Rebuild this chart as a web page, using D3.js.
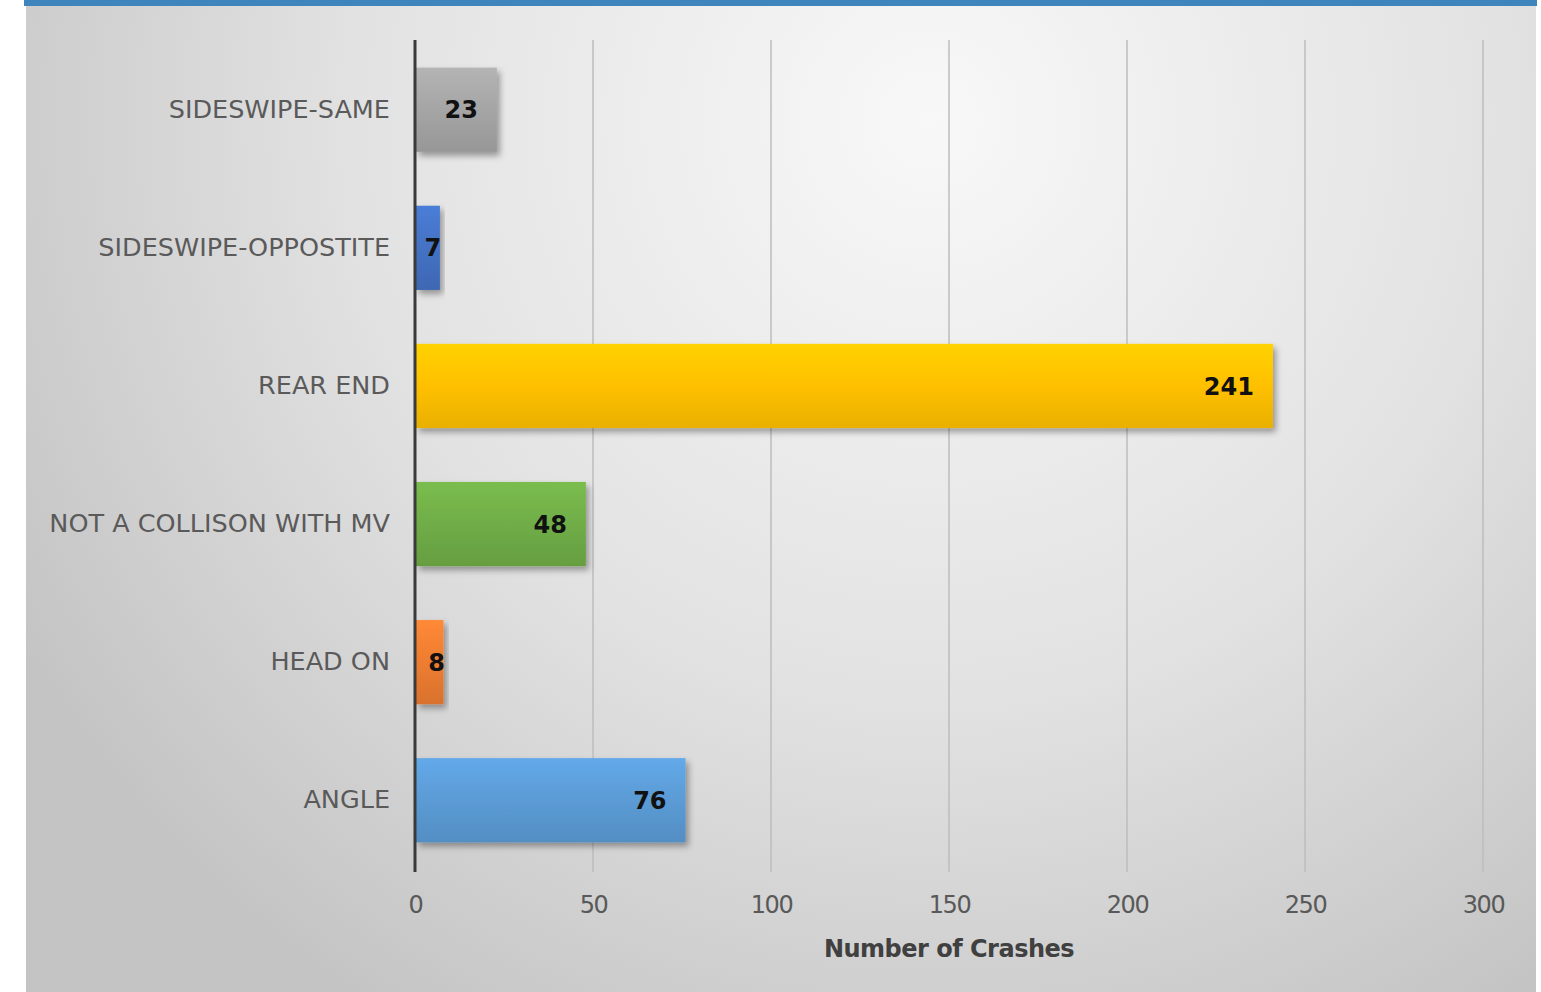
<!DOCTYPE html>
<html>
<head>
<meta charset="utf-8">
<script src="https://cdn.jsdelivr.net/npm/d3@7"></script>
<style>
  html, body { margin: 0; padding: 0; background: #fff; }
  svg { display: block; }
</style>
</head>
<body>
<div id="chart"></div>
<script>
// crash types, listed top to bottom as in the chart
const categories = ["SIDESWIPE-SAME", "SIDESWIPE-OPPOSTITE", "REAR END", "NOT A COLLISON WITH MV", "HEAD ON", "ANGLE"];
const crashes = [23, 7, 241, 48, 8, 76];
const barColors = ["#a5a5a5", "#4472c4", "#ffc000", "#70ad47", "#ed7d31", "#5b9bd5"];
const xTicks = [0, 50, 100, 150, 200, 250, 300];
const axisTitle = "Number of Crashes";

const width = 1541, height = 992;
const margin = {top: 40, right: 58, bottom: 122, left: 415};

const svg = d3.select("#chart").append("svg")
  .attr("width", width)
  .attr("height", height);

const defs = svg.append("defs");

// panel background: light in the top middle, greyer to the edges
const bg = defs.append("radialGradient")
  .attr("id", "bg")
  .attr("gradientUnits", "userSpaceOnUse")
  .attr("cx", 930).attr("cy", 120).attr("r", 1050);
bg.append("stop").attr("offset", "0%").attr("stop-color", "#f8f8f8");
bg.append("stop").attr("offset", "55%").attr("stop-color", "#e2e2e2");
bg.append("stop").attr("offset", "100%").attr("stop-color", "#c4c4c4");

// bar gradients, slightly lighter on top
barColors.forEach((c, i) => {
  const g = defs.append("linearGradient")
    .attr("id", "bar" + i)
    .attr("x1", 0).attr("y1", 0).attr("x2", 0).attr("y2", 1);
  g.append("stop").attr("offset", "0%").attr("stop-color", d3.color(c).brighter(0.25));
  g.append("stop").attr("offset", "50%").attr("stop-color", c);
  g.append("stop").attr("offset", "100%").attr("stop-color", d3.color(c).darker(0.25));
});

const shadow = defs.append("filter")
  .attr("id", "shadow")
  .attr("x", "-10%").attr("y", "-20%")
  .attr("width", "130%").attr("height", "150%");
shadow.append("feDropShadow")
  .attr("dx", 3).attr("dy", 4)
  .attr("stdDeviation", 3)
  .attr("flood-color", "#000")
  .attr("flood-opacity", 0.35);

svg.append("rect")
  .attr("x", 26).attr("y", 6)
  .attr("width", 1510).attr("height", height - 6)
  .attr("fill", "url(#bg)");

svg.append("rect")
  .attr("x", 24).attr("y", 0)
  .attr("width", 1513).attr("height", 6)
  .attr("fill", "#3d85bc");

const x = d3.scaleLinear()
  .domain([0, 300])
  .range([margin.left, width - margin.right]);

const y = d3.scaleBand()
  .domain(categories)
  .range([margin.top, height - margin.bottom])
  .paddingInner(0.39)
  .paddingOuter(0.2);

// vertical gridlines
svg.append("g")
  .selectAll("line")
  .data(xTicks.slice(1))
  .join("line")
  .attr("x1", d => x(d)).attr("x2", d => x(d))
  .attr("y1", margin.top).attr("y2", height - margin.bottom + 2)
  .attr("stroke", "#bdbdbd")
  .attr("stroke-width", 1.5);

// x tick labels
const xAxis = svg.append("g")
  .attr("transform", `translate(0,${height - margin.bottom})`)
  .call(d3.axisBottom(x).tickValues(xTicks).tickSize(0).tickPadding(26));
xAxis.select(".domain").remove();
xAxis.selectAll("text")
  .attr("fill", "#595959")
  .attr("font-family", "'DejaVu Sans', sans-serif")
  .attr("font-size", 24)
  .attr("letter-spacing", "-1.5px");

svg.append("text")
  .attr("x", x(150))
  .attr("y", 957)
  .attr("text-anchor", "middle")
  .attr("fill", "#404040")
  .attr("font-family", "'DejaVu Sans', sans-serif")
  .attr("font-weight", "bold")
  .attr("font-size", 24)
  .attr("letter-spacing", "-0.5px")
  .text(axisTitle);

// bars
svg.append("g")
  .selectAll("rect")
  .data(categories)
  .join("rect")
  .attr("x", x(0) + 1)
  .attr("y", d => y(d))
  .attr("width", (d, i) => x(crashes[i]) - x(0) - 1)
  .attr("height", y.bandwidth())
  .attr("fill", (d, i) => `url(#bar${i})`)
  .attr("filter", "url(#shadow)");

// value labels, inside the bar end
svg.append("g")
  .selectAll("text")
  .data(categories)
  .join("text")
  .attr("x", (d, i) => {
    const end = x(crashes[i]);
    return end - x(0) < 60 ? end - 7 : end - 19;
  })
  .attr("y", d => y(d) + y.bandwidth() / 2)
  .attr("dy", "0.36em")
  .attr("text-anchor", (d, i) => x(crashes[i]) - x(0) < 60 ? "middle" : "end")
  .attr("fill", "#111")
  .attr("font-family", "'DejaVu Sans', sans-serif")
  .attr("font-weight", "bold")
  .attr("font-size", 24)
  .text((d, i) => crashes[i]);

// category axis
const yAxis = svg.append("g")
  .attr("transform", `translate(${margin.left},0)`)
  .call(d3.axisLeft(y).tickSize(0).tickPadding(25));
yAxis.select(".domain").remove();
yAxis.selectAll("text")
  .attr("fill", "#5a5a5a")
  .attr("font-family", "'DejaVu Sans', sans-serif")
  .attr("font-size", 25.5);

svg.append("line")
  .attr("x1", margin.left).attr("x2", margin.left)
  .attr("y1", margin.top).attr("y2", height - margin.bottom + 2)
  .attr("stroke", "#3a3a3a")
  .attr("stroke-width", 3);
</script>
</body>
</html>
